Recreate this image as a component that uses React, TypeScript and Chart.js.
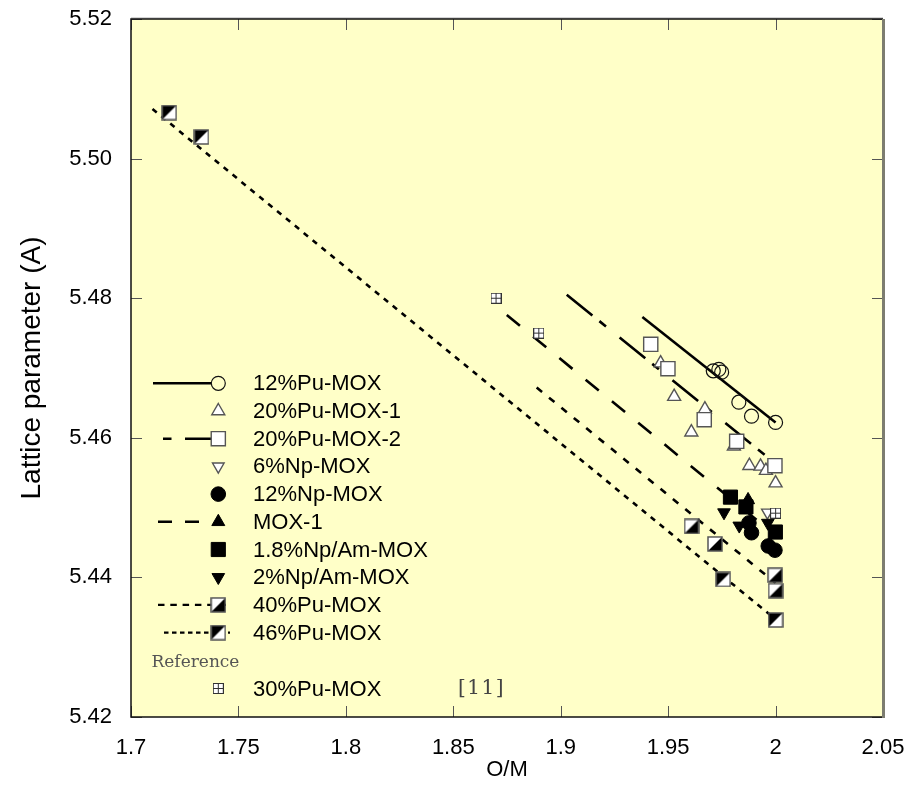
import React, { useEffect, useRef } from 'react';
import { Chart, registerables } from 'chart.js';
import { drawPoint } from 'chart.js/helpers';

Chart.register(...registerables);

// ---- data (x = O/M, y = lattice parameter in Å) ----
const pu12X = [1.971, 1.9736, 1.9749, 1.9829, 1.9888, 2.0];
const pu12Y = [5.4696, 5.4698, 5.4694, 5.4651, 5.4631, 5.4622];
const pu12FitX = [1.938, 2.0];
const pu12FitY = [5.4773, 5.4622];

const pu20aX = [1.9465, 1.9528, 1.9608, 1.9671, 1.9806, 1.9878, 1.993, 1.9955, 2.0];
const pu20aY = [5.4707, 5.4659, 5.4608, 5.4641, 5.4588, 5.456, 5.4559, 5.4553, 5.4535];

const pu20bX = [1.9419, 1.9499, 1.9668, 1.9819, 1.9997];
const pu20bY = [5.4734, 5.4699, 5.4626, 5.4595, 5.456];
const pu20bFitX = [1.9028, 2.0];
const pu20bFitY = [5.4805, 5.4563];

const np6X = [1.9962];
const np6Y = [5.4493];

const np12X = [1.9876, 1.9888, 1.9966, 1.9997];
const np12Y = [5.4478, 5.4464, 5.4445, 5.4439];

const mox1X = [1.9872];
const mox1Y = [5.4511];
const mox1FitX = [1.8749, 2.0];
const mox1FitY = [5.4776, 5.446];

const npam18X = [1.979, 1.9862, 1.9999];
const npam18Y = [5.4515, 5.4501, 5.4465];

const npam2X = [1.976, 1.9831, 1.9964];
const npam2Y = [5.4493, 5.4474, 5.4478];

const pu40X = [1.9609, 1.9718, 1.9998, 2.0];
const pu40Y = [5.4473, 5.4448, 5.4403, 5.4381];
const pu40FitX = [1.8888, 2.0];
const pu40FitY = [5.4672, 5.4392];

const pu46X = [1.7178, 1.7328, 1.9756, 2.0];
const pu46Y = [5.5066, 5.5031, 5.4397, 5.4339];
const pu46FitX = [1.71, 2.0];
const pu46FitY = [5.5071, 5.434];

const ref30X = [1.8699, 1.8898, 2.0];
const ref30Y = [5.48, 5.475, 5.4492];

const xTicks = [1.7, 1.75, 1.8, 1.85, 1.9, 1.95, 2.0, 2.05];
const yTicks = [5.42, 5.44, 5.46, 5.48, 5.5, 5.52];

const labels = [
  '12%Pu-MOX', '20%Pu-MOX-1', '20%Pu-MOX-2', '6%Np-MOX', '12%Np-MOX', 'MOX-1',
  '1.8%Np/Am-MOX', '2%Np/Am-MOX', '40%Pu-MOX', '46%Pu-MOX', '30%Pu-MOX',
];

const FONT = "'Liberation Sans', Arial, sans-serif";
const SERIF = "'DejaVu Serif', 'Liberation Serif', serif";

const pts = (xs: number[], ys: number[]) => xs.map((x, i) => ({ x, y: ys[i] }));

function halfSquare(upperLeftBlack: boolean) {
  const c = document.createElement('canvas');
  c.width = 16; c.height = 16;
  const g = c.getContext('2d')!;
  g.fillStyle = '#fff';
  g.fillRect(1, 1, 14, 14);
  g.fillStyle = '#000';
  g.beginPath();
  if (upperLeftBlack) { g.moveTo(1, 1); g.lineTo(15, 1); g.lineTo(1, 15); }
  else { g.moveTo(15, 1); g.lineTo(15, 15); g.lineTo(1, 15); }
  g.closePath();
  g.fill();
  g.strokeStyle = '#555';
  g.lineWidth = 1.5;
  g.strokeRect(1, 1, 14, 14);
  return c;
}

function gridSquare() {
  const c = document.createElement('canvas');
  c.width = 11; c.height = 11;
  const g = c.getContext('2d')!;
  g.fillStyle = '#fff';
  g.fillRect(0.5, 0.5, 10, 10);
  g.strokeStyle = '#333';
  g.lineWidth = 1;
  g.strokeRect(0.5, 0.5, 10, 10);
  g.beginPath();
  g.moveTo(5.5, 0.5); g.lineTo(5.5, 10.5);
  g.moveTo(0.5, 5.5); g.lineTo(10.5, 5.5);
  g.stroke();
  return c;
}

export default function App() {
  const ref = useRef<HTMLCanvasElement>(null);

  useEffect(() => {
    const hs40 = halfSquare(false);
    const hs46 = halfSquare(true);
    const gsq = gridSquare();

    type Mk = { style: any; r: number; bg: string; bc: string; bw: number; rot: number };
    const mk = (style: any, r: number, bg: string, bc: string, bw: number, rot = 0): Mk =>
      ({ style, r, bg, bc, bw, rot });

    const markers: Mk[] = [
      mk('circle', 7, 'rgba(0,0,0,0)', '#111', 1.2),
      mk('triangle', 7.5, '#fff', '#555', 1.4),
      mk('rect', 10, '#fff', '#555', 1.4),
      mk('triangle', 6.7, '#fff', '#555', 1.4, 180),
      mk('circle', 7.3, '#000', '#000', 1),
      mk('triangle', 7.5, '#000', '#000', 1),
      mk('rect', 10, '#000', '#000', 1),
      mk('triangle', 7.3, '#000', '#000', 1, 180),
      mk(hs40, 8, '#000', '#000', 0),
      mk(hs46, 8, '#000', '#000', 0),
      mk(gsq, 6, '#fff', '#333', 0),
    ];
    const seriesXY: [number[], number[]][] = [
      [pu12X, pu12Y], [pu20aX, pu20aY], [pu20bX, pu20bY], [np6X, np6Y], [np12X, np12Y],
      [mox1X, mox1Y], [npam18X, npam18Y], [npam2X, npam2Y], [pu40X, pu40Y], [pu46X, pu46Y],
      [ref30X, ref30Y],
    ];
    // draw order (lower = on top)
    const orders = [5, 6, 4, 8, 3, 2, 1, 2, 4, 4, 0];

    const fits = [
      { x: pu12FitX, y: pu12FitY, dash: [] as number[] },
      { x: pu20bFitX, y: pu20bFitY, dash: [33, 9, 8.5, 17.5] },
      { x: mox1FitX, y: mox1FitY, dash: [17, 17] },
      { x: pu40FitX, y: pu40FitY, dash: [7, 9] },
      { x: pu46FitX, y: pu46FitY, dash: [5.5, 6] },
    ];

    const datasets: any[] = seriesXY.map(([xs, ys], i) => ({
      label: labels[i],
      data: pts(xs, ys),
      showLine: false,
      pointStyle: markers[i].style,
      pointRadius: markers[i].r,
      pointHoverRadius: markers[i].r,
      pointBackgroundColor: markers[i].bg,
      pointBorderColor: markers[i].bc,
      pointBorderWidth: markers[i].bw,
      pointRotation: markers[i].rot,
      order: orders[i],
    }));
    fits.forEach((f, i) => {
      datasets.push({
        label: 'fit' + i,
        data: pts(f.x, f.y),
        showLine: true,
        borderColor: '#000',
        borderWidth: 2.6,
        borderDash: f.dash,
        borderCapStyle: 'butt',
        pointRadius: 0,
        pointHoverRadius: 0,
        order: 20,
      });
    });

    // legend layout: [series index, line dash or null, line from x, line to x]
    const legendRows: [number, number[] | null, number, number][] = [
      [0, [], 153, 211],
      [1, null, 0, 0],
      [2, [8.5, 13.5, 41, 100], 163, 226],
      [3, null, 0, 0],
      [4, null, 0, 0],
      [5, [14, 13], 158, 212],
      [6, null, 0, 0],
      [7, null, 0, 0],
      [8, [6.5, 5.8], 158, 230],
      [9, [4.5, 3.5], 164, 230],
    ];

    const framePlugin = {
      id: 'frame',
      beforeDraw(chart: any) {
        const { ctx, chartArea: a } = chart;
        ctx.save();
        ctx.fillStyle = '#FFFFC8';
        ctx.fillRect(a.left, a.top, a.right - a.left, a.bottom - a.top);
        ctx.restore();
      },
      beforeDatasetsDraw(chart: any) {
        const { ctx, chartArea: a, scales } = chart;
        ctx.save();
        ctx.strokeStyle = '#555';
        ctx.lineWidth = 1;
        const tl = 11;
        xTicks.forEach((v) => {
          const px = Math.round(scales.x.getPixelForValue(v)) + 0.5;
          ctx.beginPath();
          ctx.moveTo(px, a.bottom); ctx.lineTo(px, a.bottom - tl);
          ctx.moveTo(px, a.top); ctx.lineTo(px, a.top + tl);
          ctx.stroke();
        });
        yTicks.forEach((v) => {
          const py = Math.round(scales.y.getPixelForValue(v)) + 0.5;
          ctx.beginPath();
          ctx.moveTo(a.left, py); ctx.lineTo(a.left + tl, py);
          ctx.moveTo(a.right, py); ctx.lineTo(a.right - tl, py);
          ctx.stroke();
        });
        // frame
        ctx.strokeStyle = '#aaa';
        ctx.lineWidth = 1;
        ctx.beginPath(); ctx.moveTo(a.left, a.top - 1); ctx.lineTo(a.right, a.top - 1); ctx.stroke();
        ctx.strokeStyle = '#111';
        ctx.lineWidth = 1.5;
        ctx.beginPath();
        ctx.moveTo(a.right, a.top); ctx.lineTo(a.left, a.top);
        ctx.lineTo(a.left, a.bottom); ctx.lineTo(a.right, a.bottom);
        ctx.stroke();
        ctx.strokeStyle = '#7d7d70';
        ctx.lineWidth = 3;
        ctx.beginPath(); ctx.moveTo(a.right + 0.5, a.top); ctx.lineTo(a.right + 0.5, a.bottom + 1); ctx.stroke();
        ctx.restore();
      },
      afterDatasetsDraw(chart: any) {
        const { ctx } = chart;
        ctx.save();
        const mx = 218.3;
        const tx = 253;
        const y0 = 383.3;
        const dy = 27.7;
        ctx.textBaseline = 'middle';
        ctx.textAlign = 'left';
        const drawRow = (si: number, y: number, dash: number[] | null, x1: number, x2: number) => {
          if (dash) {
            ctx.save();
            ctx.strokeStyle = '#000';
            ctx.lineWidth = 2.4;
            ctx.setLineDash(dash);
            ctx.beginPath(); ctx.moveTo(x1, y); ctx.lineTo(x2, y); ctx.stroke();
            ctx.restore();
          }
          const m = markers[si];
          ctx.save();
          ctx.fillStyle = m.bg;
          ctx.strokeStyle = m.bc;
          ctx.lineWidth = m.bw;
          drawPoint(ctx, { pointStyle: m.style, radius: m.r, rotation: m.rot, borderWidth: m.bw }, mx, y);
          ctx.restore();
          ctx.font = `22px ${FONT}`;
          ctx.fillStyle = '#000';
          ctx.fillText(labels[si], tx, y + 1);
        };
        legendRows.forEach(([si, dash, x1, x2], i) => drawRow(si, y0 + i * dy, dash, x1, x2));
        ctx.font = `17px ${SERIF}`;
        ctx.fillStyle = '#555';
        ctx.fillText('Reference', 151.5, 662.5);
        drawRow(10, 688.5, null, 0, 0);
        ctx.save();
        ctx.font = `20px ${SERIF}`;
        ctx.fillStyle = '#444';
        try { (ctx as any).letterSpacing = '1.5px'; } catch (e) { /* ignore */ }
        ctx.fillText('[11]', 458, 688.5);
        ctx.restore();
        ctx.restore();
      },
    };

    const chart = new Chart(ref.current!, {
      type: 'scatter',
      data: { datasets },
      options: {
        responsive: false,
        animation: false,
        events: [],
        layout: { padding: { top: 19, right: 37, left: 0, bottom: 0 } },
        plugins: { legend: { display: false }, tooltip: { enabled: false } },
        scales: {
          x: {
            type: 'linear',
            min: 1.7,
            max: 2.05,
            afterFit: (s: any) => { s.height = 78; s.paddingLeft = 0; s.paddingRight = 0; },
            afterBuildTicks: (s: any) => { s.ticks = xTicks.map((v) => ({ value: v })); },
            ticks: {
              padding: 18,
              autoSkip: false,
              maxRotation: 0,
              color: '#000',
              font: { family: FONT, size: 22 },
              callback: (v: any) => String(parseFloat(Number(v).toFixed(2))),
            },
            grid: { display: false, drawTicks: false },
            border: { display: false },
            title: {
              display: true,
              text: 'O/M',
              color: '#000',
              font: { family: FONT, size: 22 },
              padding: { top: 0, bottom: 12 },
            },
          },
          y: {
            type: 'linear',
            min: 5.42,
            max: 5.52,
            afterFit: (s: any) => { s.width = 131; s.paddingTop = 0; s.paddingBottom = 0; },
            afterBuildTicks: (s: any) => { s.ticks = yTicks.map((v) => ({ value: v })); },
            ticks: {
              padding: 19,
              color: '#000',
              font: { family: FONT, size: 22 },
              callback: (v: any) => Number(v).toFixed(2),
            },
            grid: { display: false, drawTicks: false },
            border: { display: false },
            title: {
              display: true,
              text: 'Lattice parameter (A)',
              color: '#000',
              font: { family: FONT, size: 28 },
              padding: { top: 15, bottom: 0 },
            },
          },
        },
      } as any,
      plugins: [framePlugin],
    });
    return () => chart.destroy();
  }, []);

  return (
    <div style={{ position: 'absolute', left: 0, top: 0, width: 920, height: 795, background: '#fff' }}>
      <canvas ref={ref} width={920} height={795} style={{ width: 920, height: 795, display: 'block' }} />
    </div>
  );
}
